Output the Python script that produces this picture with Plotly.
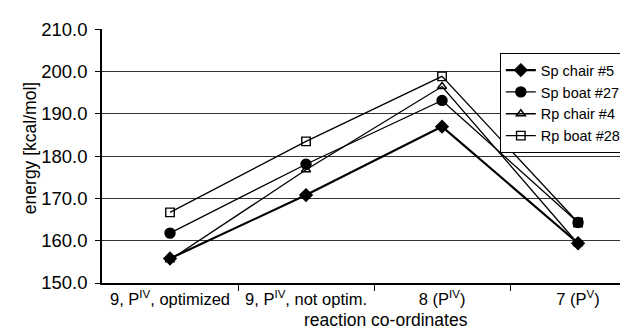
import plotly.graph_objects as go

categories = ["9, P<sup>IV</sup>, optimized", "9, P<sup>IV</sup>, not optim.", "8 (P<sup>IV</sup>)", "7 (P<sup>V</sup>)"]
sp_chair_5 = [155.8, 170.8, 187.0, 159.4]
sp_boat_27 = [161.8, 178.1, 193.2, 164.3]
rp_chair_4 = [155.5, 176.8, 196.5, 159.3]
rp_boat_28 = [166.7, 183.5, 198.9, 164.3]
y_ticks = [150, 160, 170, 180, 190, 200, 210]

xs = list(range(len(categories)))
fig = go.Figure()
series = [
    ("Sp chair #5", sp_chair_5, "diamond", 9.5, 2.2),
    ("Sp boat #27", sp_boat_27, "circle", 10, 1.3),
    ("Rp chair #4", rp_chair_4, "triangle-up-open", 8, 1.3),
    ("Rp boat #28", rp_boat_28, "square-open", 8.5, 1.3),
]
for name, vals, sym, size, lw in series:
    fig.add_trace(go.Scatter(
        x=xs, y=vals, name=name, mode="lines+markers",
        line=dict(color="black", width=lw),
        marker=dict(symbol=sym, size=size, color="black",
                    line=dict(color="black", width=1.4)),
    ))

fig.update_layout(
    width=628, height=329,
    margin=dict(l=94, r=0, t=21, b=54),
    paper_bgcolor="white", plot_bgcolor="white",
    font=dict(family="Liberation Sans, Arial, sans-serif", size=15, color="black"),
    showlegend=True,
    legend=dict(x=0.745, y=0.905, xanchor="left", yanchor="top",
                bgcolor="white", bordercolor="black", borderwidth=1,
                font=dict(size=14.5), tracegroupgap=0),
    xaxis=dict(
        range=[-0.5, 3.426],
        tickvals=xs, ticktext=categories, ticks="", showgrid=False,
        showline=True, linecolor="black", linewidth=1.5, zeroline=False,
        tickfont=dict(size=16.5),
        minor=dict(tickvals=[0.5, 1.5, 2.5], ticks="outside", ticklen=6,
                   tickcolor="black", tickwidth=1.3, showgrid=False),
    ),
    yaxis=dict(
        range=[150, 210.1], tickvals=y_ticks, ticktext=[f"{v:.1f}" for v in y_ticks],
        ticks="outside", ticklen=5, tickcolor="black", ticklabelstandoff=4,
        showgrid=True, gridcolor="#333", gridwidth=1,
        showline=True, linecolor="black", linewidth=1.5, zeroline=False,
        tickfont=dict(size=18.5),
    ),
    annotations=[
        dict(text="reaction co-ordinates", xref="paper", yref="paper",
             x=0.532, y=0, yshift=-37, xanchor="center", yanchor="middle",
             showarrow=False, font=dict(size=17.5)),
        dict(text="energy [kcal/mol]", xref="paper", yref="paper", textangle=-90,
             x=-0.1348, y=0.531, xanchor="center", yanchor="middle",
             showarrow=False, font=dict(size=17.5)),
    ],
)
fig.write_html("out.html")
